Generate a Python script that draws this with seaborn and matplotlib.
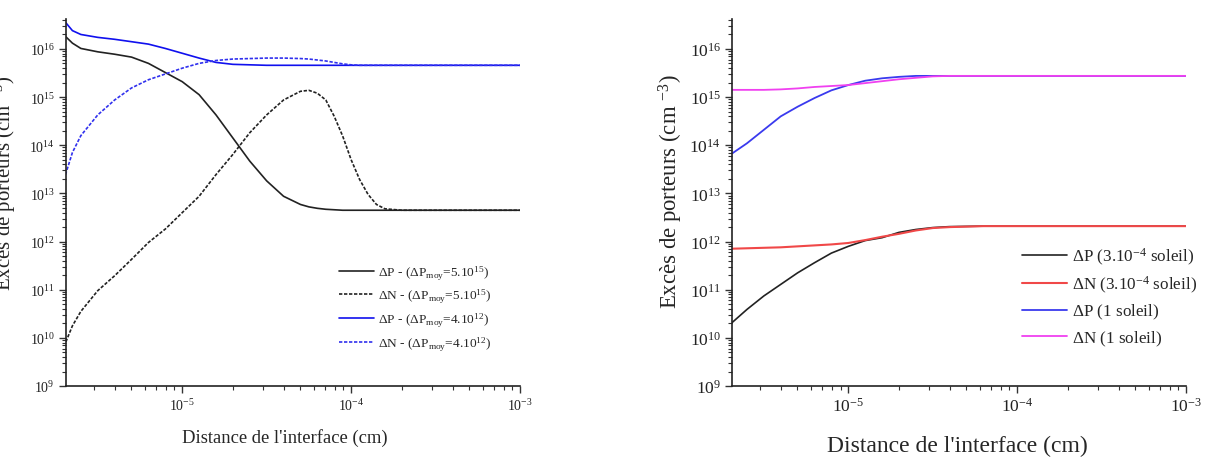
import numpy as np
import matplotlib
matplotlib.use('Agg')
import matplotlib.pyplot as plt
import seaborn as sns

# left panel : distance grid (log10 of cm) and log10 of carrier excess
x_left_log = [-5.7, -5.65, -5.6, -5.5, -5.4, -5.3, -5.2, -5.1, -5.0, -4.9, -4.8, -4.7, -4.6, -4.5,
              -4.4, -4.3, -4.25, -4.2, -4.15, -4.1, -4.05, -4.0, -3.95, -3.9, -3.85, -3.8, -3.7, -3.5, -3.0]
dp_5e15 = [16.29, 16.12, 16.01, 15.94, 15.89, 15.83, 15.70, 15.51, 15.32, 15.05, 14.63, 14.15, 13.67, 13.26,
           12.94, 12.77, 12.72, 12.69, 12.67, 12.66, 12.65, 12.65, 12.65, 12.65, 12.65, 12.65, 12.65, 12.65, 12.65]
dn_5e15 = [9.82, 10.25, 10.55, 10.98, 11.29, 11.63, 11.98, 12.26, 12.60, 12.94, 13.39, 13.81, 14.26, 14.63,
           14.94, 15.12, 15.14, 15.08, 14.94, 14.60, 14.19, 13.70, 13.29, 12.98, 12.77, 12.68, 12.65, 12.65, 12.65]
dp_4e12 = [16.59, 16.38, 16.30, 16.24, 16.20, 16.15, 16.10, 16.01, 15.91, 15.81, 15.72, 15.68, 15.67, 15.66,
           15.66, 15.66, 15.66, 15.66, 15.66, 15.66, 15.66, 15.66, 15.66, 15.66, 15.66, 15.66, 15.66, 15.66, 15.66]
dn_4e12 = [13.29, 13.85, 14.20, 14.63, 14.94, 15.19, 15.36, 15.48, 15.60, 15.70, 15.76, 15.79, 15.80, 15.81,
           15.81, 15.80, 15.79, 15.77, 15.75, 15.72, 15.69, 15.67, 15.66, 15.66, 15.66, 15.66, 15.66, 15.66, 15.66]

# right panel
x_right_log = [-5.7, -5.6, -5.5, -5.4, -5.3, -5.2, -5.1, -5.0, -4.9, -4.8, -4.7, -4.6, -4.5, -4.4, -4.2, -4.0, -3.5, -3.0]
dp_low = [10.28, 10.59, 10.87, 11.11, 11.35, 11.56, 11.76, 11.90, 12.02, 12.08, 12.19, 12.25, 12.29, 12.31, 12.32, 12.32, 12.32, 12.32]
dn_low = [11.85, 11.86, 11.87, 11.88, 11.90, 11.92, 11.94, 11.97, 12.03, 12.10, 12.16, 12.23, 12.28, 12.30, 12.32, 12.32, 12.32, 12.32]
dp_sun = [13.80, 14.04, 14.32, 14.60, 14.80, 14.98, 15.14, 15.25, 15.34, 15.39, 15.42, 15.44, 15.44, 15.44, 15.44, 15.44, 15.44, 15.44]
dn_sun = [15.15, 15.15, 15.15, 15.16, 15.18, 15.21, 15.23, 15.25, 15.29, 15.33, 15.37, 15.40, 15.43, 15.44, 15.44, 15.44, 15.44, 15.44]

left_labels = [r'$\Delta$P - ($\Delta$P$_{moy}$=5.10$^{15}$)',
               r'$\Delta$N - ($\Delta$P$_{moy}$=5.10$^{15}$)',
               r'$\Delta$P - ($\Delta$P$_{moy}$=4.10$^{12}$)',
               r'$\Delta$N - ($\Delta$P$_{moy}$=4.10$^{12}$)']
right_labels = [r'$\Delta$P (3.10$^{-4}$ soleil)', r'$\Delta$N (3.10$^{-4}$ soleil)',
                r'$\Delta$P (1 soleil)', r'$\Delta$N (1 soleil)']

sns.set_style('ticks')
plt.rcParams['font.family'] = ['Liberation Serif', 'DejaVu Serif']
plt.rcParams['mathtext.fontset'] = 'custom'
plt.rcParams['mathtext.rm'] = 'Liberation Serif'
plt.rcParams['mathtext.it'] = 'Liberation Serif:italic'
plt.rcParams['mathtext.default'] = 'rm'
plt.rcParams['xtick.direction'] = 'out'
plt.rcParams['ytick.direction'] = 'out'

fig = plt.figure(figsize=(12.06, 4.6), dpi=100)
ax1 = fig.add_axes([0.0547, 0.1587, 0.3765, 0.798])
ax2 = fig.add_axes([0.607, 0.1587, 0.3765, 0.798])

xl = 10 ** np.array(x_left_log)
xr = 10 ** np.array(x_right_log)

sns.lineplot(x=xl, y=10 ** np.array(dp_5e15), ax=ax1, color='#222222', lw=1.2, label=left_labels[0])
sns.lineplot(x=xl, y=10 ** np.array(dn_5e15), ax=ax1, color='#222222', lw=1.2, ls=(0, (2, 1)), label=left_labels[1])
sns.lineplot(x=xl, y=10 ** np.array(dp_4e12), ax=ax1, color='#1010ee', lw=1.2, label=left_labels[2])
sns.lineplot(x=xl, y=10 ** np.array(dn_4e12), ax=ax1, color='#3030ee', lw=1.2, ls=(0, (2, 1)), label=left_labels[3])

sns.lineplot(x=xr, y=10 ** np.array(dp_low), ax=ax2, color='#222222', lw=1.2, label=right_labels[0])
sns.lineplot(x=xr, y=10 ** np.array(dn_low), ax=ax2, color='#f04848', lw=1.5, label=right_labels[1])
sns.lineplot(x=xr, y=10 ** np.array(dp_sun), ax=ax2, color='#3a3aee', lw=1.3, label=right_labels[2])
sns.lineplot(x=xr, y=10 ** np.array(dn_sun), ax=ax2, color='#f040f0', lw=1.3, label=right_labels[3])

for ax, fs in [(ax1, 10), (ax2, 12.5)]:
    ax.set_xscale('log')
    ax.set_yscale('log')
    ax.set_xlim(2.05e-6, 1e-3)
    ax.set_ylim(1e9, 4.2e16)
    ax.set_xticks([1e-5, 1e-4, 1e-3])
    ax.set_yticks([10.0 ** k for k in range(9, 17)])
    ax.yaxis.set_minor_locator(matplotlib.ticker.LogLocator(base=10, subs=np.arange(2, 10), numticks=20))
    ax.xaxis.set_minor_locator(matplotlib.ticker.LogLocator(base=10, subs=np.arange(2, 10), numticks=20))
    ax.yaxis.set_minor_formatter(matplotlib.ticker.NullFormatter())
    ax.xaxis.set_minor_formatter(matplotlib.ticker.NullFormatter())
    ax.tick_params(which='major', length=5, width=1, labelsize=fs, pad=3, colors='#333333', labelcolor='#222222')
    ax.tick_params(which='minor', length=3, width=0.8, colors='#333333')
    for s in ['top', 'right']:
        ax.spines[s].set_visible(False)
    for s in ['left', 'bottom']:
        ax.spines[s].set_linewidth(1.2)
        ax.spines[s].set_color('#222222')
    ax.set_xlabel('')
    ax.set_ylabel('')

fig.text(285 / 1206, 1 - 438 / 460, "Distance de l'interface (cm)", fontsize=13.4, ha='center', va='center')
fig.text(957 / 1206, 1 - 446 / 460, "Distance de l'interface (cm)", fontsize=17, ha='center', va='center')
fig.text(0.004, 1 - 183 / 460, r'Excès de porteurs (cm $^{-3}$)', rotation=90, fontsize=15, ha='center', va='center')
fig.text(671 / 1206, 1 - 192 / 460, r'Excès de porteurs (cm $^{-3}$)', rotation=90, fontsize=16.4, ha='center', va='center')

ax1.legend(loc='upper left', bbox_to_anchor=(0.601, 0.334), frameon=False, fontsize=9.6,
           handlelength=2.6, handletextpad=0.3, labelspacing=0.4, borderpad=0, borderaxespad=0)
ax2.legend(loc='upper left', bbox_to_anchor=(0.639, 0.383), frameon=False, fontsize=12.3,
           handlelength=2.6, handletextpad=0.3, labelspacing=0.42, borderpad=0, borderaxespad=0)

fig.savefig('out.png', dpi=100)
